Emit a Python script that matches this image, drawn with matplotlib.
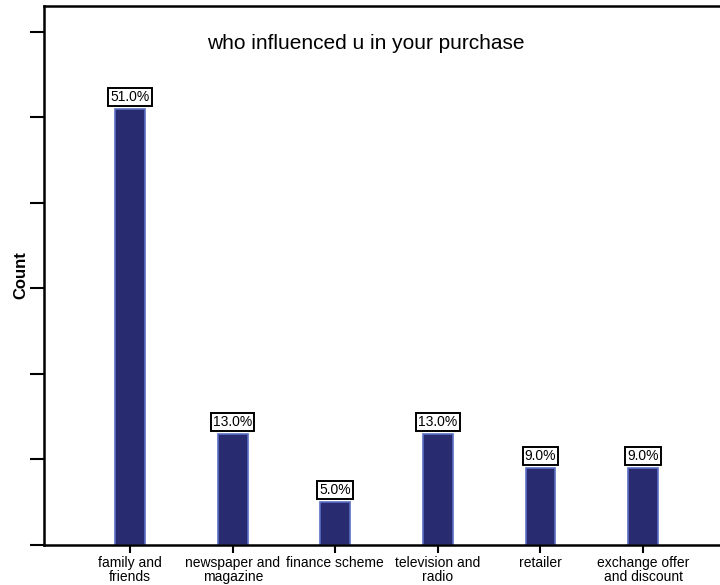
import matplotlib
matplotlib.use('Agg')
import matplotlib.pyplot as plt

plt.rcParams['font.family'] = ['Liberation Sans', 'DejaVu Sans']

# influence categories and respondent counts (out of 100)
categories = ['family and\nfriends', 'newspaper and\nmagazine', 'finance scheme',
              'television and\nradio', 'retailer', 'exchange offer\nand discount']
counts = [51, 13, 5, 13, 9, 9]
total = sum(counts)

fig = plt.figure(figsize=(7.2, 5.85), dpi=100)
ax = fig.add_axes([44 / 720, 40 / 585, 676 / 720, 539 / 585])

x = range(len(categories))
bars = ax.bar(x, counts, width=0.29, color='#292b70', edgecolor='#5b6fc4',
              linewidth=1.2, zorder=2)

# boxed percentage label above each bar
for rect, c in zip(bars, counts):
    ax.annotate('%.1f%%' % (100.0 * c / total),
                (rect.get_x() + rect.get_width() / 2, rect.get_height()),
                xytext=(0, 8.5), textcoords='offset points',
                ha='center', va='center', fontsize=10,
                bbox=dict(boxstyle='square,pad=0.15', fc='white', ec='black', lw=1.4))

ax.set_xlim(-0.84, 5.75)
ax.set_ylim(0, 63)
ax.set_xticks(list(x))
ax.set_xticklabels(categories, fontsize=10, linespacing=1.0)
ax.set_yticks(range(0, 70, 10))
ax.set_yticklabels([])
ax.tick_params(axis='y', direction='out', length=10, width=1.5)
ax.tick_params(axis='x', direction='out', length=6, width=1.5, pad=2)

for side in ['left', 'top', 'bottom']:
    ax.spines[side].set_linewidth(1.8)
ax.spines['right'].set_visible(False)

ax.set_ylabel('Count', fontsize=12, fontweight='bold', labelpad=-2)
ax.text(0.476, 0.93, 'who influenced u in your purchase', transform=ax.transAxes,
        ha='center', va='center', fontsize=15)

fig.savefig('out.png', dpi=100)
